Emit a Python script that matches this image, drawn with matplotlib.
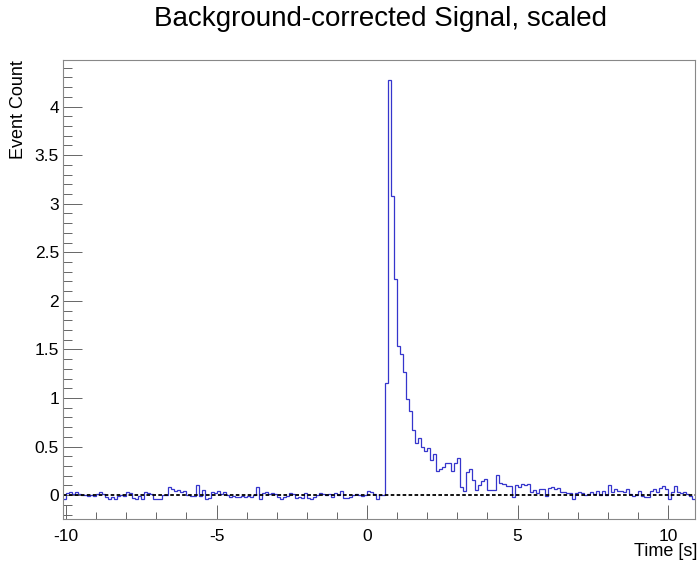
import numpy as np
import matplotlib
matplotlib.use("Agg")
import matplotlib.pyplot as plt
from matplotlib.ticker import MultipleLocator

# ---- data ----
bin_start = -10.1
bin_width = 0.1

pre_signal = [
    -0.04, 0.02, 0.03, 0.01, 0.03, 0.01, 0.00, 0.00, -0.01, 0.00,
    -0.01, 0.01, 0.03, 0.01, -0.02, -0.04, -0.02, -0.04, -0.01, 0.00,
    -0.01, 0.03, 0.02, -0.03, -0.04, -0.01, -0.04, 0.03, 0.02, 0.01,
    -0.04, -0.04, -0.04, 0.00, 0.00, 0.08, 0.06, 0.04, 0.05, 0.03,
    0.045, 0.00, -0.01, -0.01, 0.10, -0.01, 0.05, -0.04, -0.03, 0.03,
    0.02, 0.04, 0.01, 0.03, 0.00, -0.02, -0.01, -0.02, -0.02, -0.01,
    -0.02, -0.01, -0.02, 0.00, 0.08, -0.04, 0.02, 0.03, 0.01, 0.02,
    0.01, -0.02, -0.04, -0.02, -0.01, 0.02, 0.01, -0.03, -0.02, -0.03,
    0.02, -0.03, -0.04, -0.02, 0.00, 0.02, 0.01, 0.00, 0.01, -0.02,
    0.02, 0.00, 0.045, -0.03, -0.03, -0.02, 0.00, 0.01, 0.00, -0.01,
    0.00, 0.045, 0.03, 0.01, -0.035, 0.00, 0.00,
]

signal = [
    1.16, 4.27, 3.08, 2.23, 1.535, 1.45, 1.27, 0.99, 0.87, 0.67,
    0.54, 0.59, 0.50, 0.45, 0.49, 0.36, 0.42, 0.25, 0.27, 0.295,
    0.33, 0.33, 0.25, 0.33, 0.38, 0.08, 0.04, 0.24, 0.27, 0.16,
    0.05, 0.10, 0.15, 0.17, 0.05, 0.05, 0.05, 0.21,
]

post_signal = [
    0.13, 0.12, 0.09, 0.09, -0.02, 0.10, 0.08, 0.12, 0.10, 0.12,
    0.03, 0.05, 0.02, 0.06, 0.06, -0.01, 0.07, 0.08, 0.06, 0.07,
    0.03, 0.03, 0.02, 0.02, -0.04, 0.02, 0.03,
    0.02, 0.00, 0.01, 0.03, 0.01, 0.04, 0.00, 0.04, 0.00, 0.10,
    0.03, 0.06, 0.04, 0.04, 0.03, 0.06, 0.01, -0.01, 0.00, 0.04,
    -0.01, -0.02, -0.02, 0.04, 0.06, 0.03, 0.07, 0.09, 0.06, -0.04,
    0.03, 0.09, 0.03, 0.02, 0.03, 0.01, -0.01, -0.04,
]

title = "Background-corrected Signal, scaled"
xlabel = "Time [s]"
ylabel = "Event Count"

counts = np.array(pre_signal + signal + post_signal)
edges = bin_start + bin_width * np.arange(len(counts) + 1)

# ---- figure ----
plt.rcParams['font.family'] = ['Liberation Sans', 'DejaVu Sans']
fig = plt.figure(figsize=(6.97, 5.65), dpi=100)
W, H = 697, 565
ax = fig.add_axes([63.1 / W, 1 - 519 / H, 632 / W, 459 / H])

ax.stairs(counts, edges, color='#3535cc', linewidth=0.9, baseline=None)
ax.axhline(0, color='black', linewidth=1.3, linestyle=(0, (2.0, 1.3)))

ax.set_xlim(edges[0], edges[-1])
ax.set_ylim(-0.245, 4.48)

ax.xaxis.set_major_locator(MultipleLocator(5))
ax.xaxis.set_minor_locator(MultipleLocator(1))
ax.yaxis.set_major_locator(MultipleLocator(0.5))
ax.yaxis.set_minor_locator(MultipleLocator(0.1))

ax.yaxis.set_major_formatter(matplotlib.ticker.FuncFormatter(lambda v, p: ('%g' % v)))
ax.xaxis.set_major_formatter(matplotlib.ticker.FuncFormatter(lambda v, p: ('%g' % v)))

tick_col = '#666666'
for s in ax.spines.values():
    s.set_color('#888888')
    s.set_linewidth(0.8)

ax.tick_params(axis='x', which='major', direction='in', length=9.9, width=0.7,
               color=tick_col, labelsize=12.5, pad=7, top=False)
ax.tick_params(axis='x', which='minor', direction='in', length=5.0, width=0.7,
               color=tick_col, top=False)
ax.tick_params(axis='y', which='major', direction='in', length=13.7, width=0.7,
               color=tick_col, labelsize=12.5, pad=3, right=False)
ax.tick_params(axis='y', which='minor', direction='in', length=6.8, width=0.7,
               color=tick_col, right=False)

fig.text(380 / W, 1 - 19 / H, title, ha='center', va='center', fontsize=20)
fig.text(1.0, 1 - 551 / H, xlabel, ha='right', va='center', fontsize=13)
fig.text(19 / W, 1 - 60 / H, ylabel, ha='center', va='top', rotation=90, fontsize=13)

fig.savefig('out.png', dpi=100)
